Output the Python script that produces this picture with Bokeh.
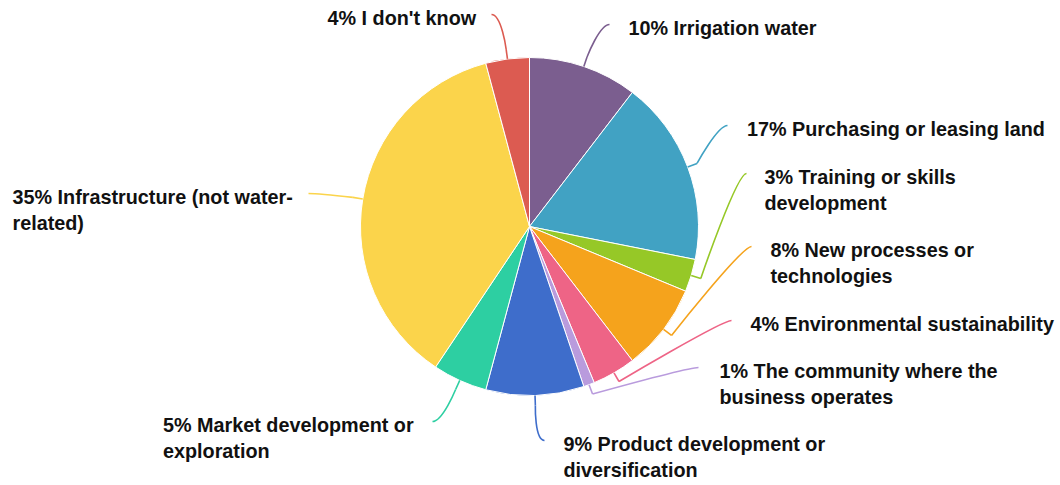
import math
from bokeh.plotting import figure
from bokeh.models import Range1d, ColumnDataSource
from bokeh.embed import file_html
from bokeh.resources import INLINE
from bokeh.core.properties import value

# ---------------- data ----------------
categories = [
    "Irrigation water",
    "Purchasing or leasing land",
    "Training or skills\ndevelopment",
    "New processes or\ntechnologies",
    "Environmental sustainability",
    "The community where the\nbusiness operates",
    "Product development or\ndiversification",
    "Market development or\nexploration",
    "Infrastructure (not water-\nrelated)",
    "I don't know",
]
percents = [10, 17, 3, 8, 4, 1, 9, 5, 35, 4]
colors = ["#7B5E8F", "#41A2C3", "#96C827", "#F5A31C", "#EE6486",
          "#B99BDD", "#3E6DCB", "#2DCFA2", "#FBD44B", "#DC5B51"]

# ---------------- layout (screen pixels) ----------------
IMG_H = 485
CX, CY, R = 529, 226, 169
# leader line end point for each label
end_x = [609, 727, 746, 751, 731, 698, 544, 432, 308, 491]
end_y = [24, 125, 173, 246, 320, 367, 440, 421, 193, 14]
# left edge of each label block
text_left = [628, 746.5, 764, 770, 750, 719, 563, 162.5, 12, 327]

W, H = 1060, 485
p = figure(width=W, height=H, x_range=Range1d(0, W), y_range=Range1d(0, H),
           output_backend="svg", toolbar_location=None, min_border=0,
           x_axis_type=None, y_axis_type=None)
p.grid.visible = False
p.outline_line_color = None
p.background_fill_color = "white"
p.border_fill_color = "white"

def sy(y):
    return IMG_H - y

total = float(sum(percents))
starts, ends, mids = [], [], []
acc = 0.0
for v in percents:
    f0 = acc / total
    acc += v
    f1 = acc / total
    starts.append(math.pi / 2 - 2 * math.pi * f0)
    ends.append(math.pi / 2 - 2 * math.pi * f1)
    mids.append(2 * math.pi * (f0 + f1) / 2)  # clockwise from top

src = ColumnDataSource(dict(start=starts, end=ends, color=colors))
p.wedge(x=CX, y=sy(CY), radius=R, start_angle="start", end_angle="end",
        direction="clock", fill_color="color", line_color="white", line_width=1,
        source=src)

# leader lines
sx0, sy0, sx1, sy1 = [], [], [], []
bx0, by0, bx1, by1, c0x, c0y, c1x, c1y = [], [], [], [], [], [], [], []
for i, th in enumerate(mids):
    ux, uy = math.sin(th), math.cos(th)
    P0 = (CX + R * ux, sy(CY) + R * uy)
    C = (CX + (R + 10) * ux, sy(CY) + (R + 10) * uy)
    E = (end_x[i], sy(end_y[i]))
    s = 1 if end_x[i] > CX else -1
    sx0.append(P0[0]); sy0.append(P0[1]); sx1.append(C[0]); sy1.append(C[1])
    bx0.append(C[0]); by0.append(C[1]); bx1.append(E[0]); by1.append(E[1])
    c0x.append(C[0]); c0y.append(C[1])
    c1x.append(E[0] - s * 10); c1y.append(E[1])

p.segment(x0=sx0, y0=sy0, x1=sx1, y1=sy1, line_color=colors, line_width=1.6)
p.bezier(x0=bx0, y0=by0, x1=bx1, y1=by1, cx0=c0x, cy0=c0y, cx1=c1x, cy1=c1y,
         line_color=colors, line_width=1.6)

# labels
tx, ty, tt = [], [], []
for i, (pc, cat) in enumerate(zip(percents, categories)):
    lines = f"{pc}% {cat}".split("\n")
    for j, ln in enumerate(lines):
        tx.append(text_left[i])
        ty.append(sy(end_y[i] + 3 + 26 * j))
        tt.append(ln)
p.text(x=tx, y=ty, text=tt, text_font=value("Liberation Sans"), text_font_style="bold",
       text_font_size="19.8px", text_color="#111111", text_baseline="alphabetic",
       text_align="left")

open("out.html", "w").write(file_html(p, INLINE))
